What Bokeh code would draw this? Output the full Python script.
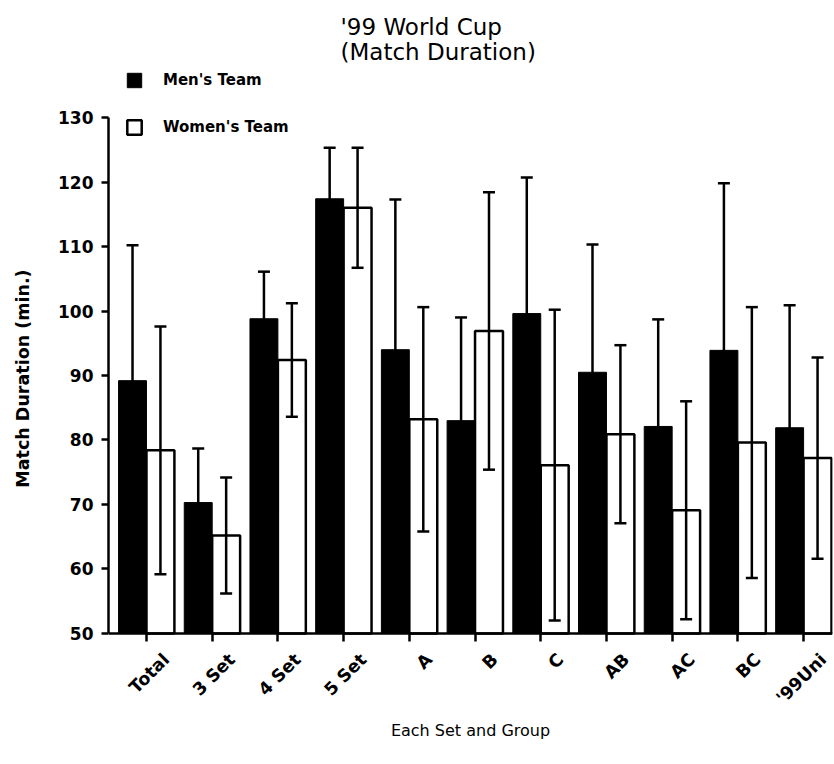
import numpy as np
from math import pi

from bokeh.plotting import figure
from bokeh.models import (ColumnDataSource, Range1d, FixedTicker, Whisker, TeeHead,
                          Label, Legend, LegendItem, LinearAxis)
from bokeh.transform import dodge
from bokeh.embed import file_html
from bokeh.resources import INLINE

# Match duration by set count and group (mean +/- SD, minutes)
categories = ["Total", "3 Set", "4 Set", "5 Set", "A", "B", "C", "AB", "AC", "BC", "'99Uni"]
men_mean = [89.2, 70.3, 98.8, 117.4, 94.0, 83.0, 99.6, 90.5, 82.1, 93.9, 81.9]
men_sd = [21.0, 8.4, 7.3, 7.9, 23.3, 16.0, 21.1, 19.8, 16.6, 25.9, 19.0]
women_mean = [78.4, 65.2, 92.4, 116.0, 83.2, 96.9, 76.1, 80.9, 69.1, 79.6, 77.2]
women_sd = [19.2, 9.0, 8.8, 9.3, 17.4, 21.5, 24.1, 13.8, 16.9, 21.0, 15.6]
y_ticks = [50, 60, 70, 80, 90, 100, 110, 120, 130]

FONT = "DejaVu Sans"
BAR_W = 0.425
OFF = BAR_W / 2
X0, X1 = -0.578, 10.44
Y0, Y1 = 50, 130
# the frame reaches past the axes on both ends so the title, key and
# category names all sit inside it; the axes are pinned to the 50..130 span
Y_BOTTOM, Y_TOP = 31.86, 148.14
LBL_SHIFT = 0.30        # category names sit a little right of their tick

men = np.array(men_mean)
msd = np.array(men_sd)
women = np.array(women_mean)
wsd = np.array(women_sd)
idx = list(range(len(categories)))

src = ColumnDataSource(data=dict(
    x=idx,
    men=men, men_hi=men + msd, men_lo=men - msd,
    women=women, women_hi=women + wsd, women_lo=women - wsd,
))

p = figure(width=834, height=764, output_backend="svg", toolbar_location=None,
           x_range=Range1d(X0, X1), y_range=Range1d(Y_BOTTOM, Y_TOP),
           min_border_left=108, min_border_right=2, min_border_top=0,
           min_border_bottom=14)
p.extra_x_ranges = {"names": Range1d(X0 - LBL_SHIFT, X1 - LBL_SHIFT)}
p.outline_line_color = None
p.grid.visible = False
p.background_fill_color = "white"
p.border_fill_color = "white"

men_r = p.vbar(x=dodge("x", -OFF), top="men", bottom=Y0, width=BAR_W, source=src,
               fill_color="black", line_color="black", line_width=1)
women_r = p.vbar(x=dodge("x", OFF), top="women", bottom=Y0, width=BAR_W, source=src,
                 fill_color="white", line_color="black", line_width=2.5)

for base, hi, lo in ((dodge("x", -OFF), "men_hi", "men_lo"),
                     (dodge("x", OFF), "women_hi", "women_lo")):
    w = Whisker(source=src, base=base, upper=hi, lower=lo, level="annotation",
                line_color="black", line_width=2.5,
                upper_head=TeeHead(size=12, line_width=2.5, line_color="black"),
                lower_head=TeeHead(size=12, line_width=2.5, line_color="black"))
    p.add_layout(w)

# y axis, drawn only over 50..130
yax = p.yaxis[0]
yax.bounds = (Y0, Y1)
yax.ticker = FixedTicker(ticks=y_ticks)
yax.minor_tick_line_color = None
yax.major_tick_in = 0
yax.major_tick_out = 7
yax.major_tick_line_width = 2.5
yax.axis_line_width = 2.5
yax.major_label_standoff = 8
yax.major_label_text_font = FONT
yax.major_label_text_font_style = "bold"
yax.major_label_text_font_size = "17px"
yax.major_label_text_color = "black"
yax.axis_label = "Match  Duration (min.)"
yax.axis_label_standoff = 22
yax.axis_label_text_font = FONT
yax.axis_label_text_font_style = "bold"
yax.axis_label_text_font_size = "17.5px"
yax.axis_label_text_color = "black"

# x axis at y = 50: tick marks at the category centres
xax = p.xaxis[0]
xax.fixed_location = Y0
xax.ticker = FixedTicker(ticks=idx)
xax.major_label_overrides = {i: "" for i in idx}
xax.major_label_standoff = 0
xax.minor_tick_line_color = None
xax.major_tick_in = 0
xax.major_tick_out = 8
xax.major_tick_line_width = 2.5
xax.axis_line_width = 2.5

# second x axis at y = 50 carrying the rotated category names
name_axis = LinearAxis(x_range_name="names", fixed_location=Y0,
                       ticker=FixedTicker(ticks=idx),
                       major_label_overrides={i: c for i, c in zip(idx, categories)},
                       major_label_orientation=pi / 4, major_label_standoff=23,
                       axis_line_color=None, major_tick_line_color=None,
                       minor_tick_line_color=None, major_tick_out=0, major_tick_in=0,
                       major_label_text_font=FONT, major_label_text_font_style="bold",
                       major_label_text_font_size="17.5px", major_label_text_color="black",
                       axis_label="Each Set and Group", axis_label_standoff=3,
                       axis_label_text_font=FONT, axis_label_text_font_style="normal",
                       axis_label_text_font_size="16px", axis_label_text_color="black")
p.add_layout(name_axis, "below")

# two-line title
for txt, yv in (("'99 World Cup", 144.1), ("(Match Duration)", 140.2)):
    p.add_layout(Label(x=2.953, y=yv, text=txt, text_align="left", text_baseline="middle",
                       text_font=FONT, text_font_size="23px", text_color="black"))

legend = Legend(items=[LegendItem(label="Men's Team", renderers=[men_r]),
                       LegendItem(label="Women's Team", renderers=[women_r])],
                location=(17, 614), orientation="vertical",
                glyph_width=18, glyph_height=18, spacing=29, label_standoff=20,
                padding=0, margin=0, border_line_color=None,
                background_fill_alpha=0, label_text_font=FONT,
                label_text_font_style="bold", label_text_font_size="15px",
                label_text_color="black", label_height=18)
p.add_layout(legend, "center")

open("out.html", "w").write(file_html(p, INLINE))
